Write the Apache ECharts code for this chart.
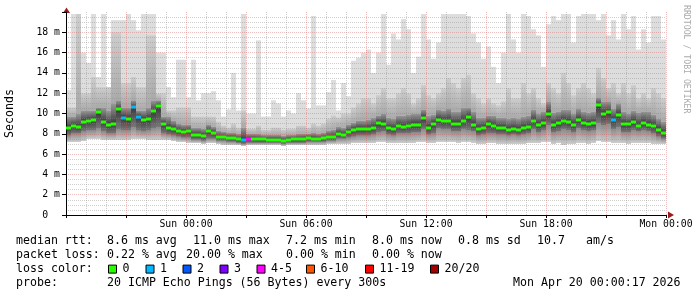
<!DOCTYPE html>
<html><head><meta charset="utf-8">
<script src="https://cdn.jsdelivr.net/npm/echarts@6/dist/echarts.min.js"></script>
<style>html,body{margin:0;padding:0;background:#fff}#c{width:697px;height:297px}</style>
</head><body><div id="c"></div>
<script>
// ---- data (hours since Sat 18:00, one column every 15 min) ----
const STEP_HOURS = 0.25;
const xTickHours  = [6, 12, 18, 24, 30];
const xTickLabels = ['Sun 00:00', 'Sun 06:00', 'Sun 12:00', 'Sun 18:00', 'Mon 00:00'];
const yTickValues = [0, 2, 4, 6, 8, 10, 12, 14, 16, 18];
const yTickLabels = ['0  ', '2 m', '4 m', '6 m', '8 m', '10 m', '12 m', '14 m', '16 m', '18 m'];

const medianMs = [8.6,8.8,8.7,9.2,9.3,9.4,10.1,9.2,8.9,9.0,
 10.4,9.6,9.5,10.6,9.7,9.4,9.5,10.2,10.7,9.0,
 8.6,8.5,8.3,8.2,8.3,7.9,7.9,7.8,8.3,8.1,
 7.7,7.7,7.6,7.6,7.45,7.4,7.5,7.5,7.45,7.45,
 7.4,7.4,7.4,7.3,7.4,7.45,7.45,7.5,7.6,7.5,
 7.5,7.55,7.7,7.7,8.0,7.9,8.2,8.4,8.5,8.45,
 8.5,8.6,9.1,9.0,8.55,8.5,8.8,8.7,8.8,8.9,
 8.9,9.6,8.6,9.0,9.4,9.3,9.3,9.0,9.0,9.3,
 9.7,8.9,8.5,8.6,9.0,8.8,8.6,8.6,8.4,8.5,
 8.4,8.6,8.7,9.3,8.9,9.1,10.0,8.9,9.1,9.3,
 9.2,8.9,9.35,9.1,9.0,9.05,10.8,10.0,10.1,9.4,
 9.9,8.95,8.95,9.2,8.8,9.1,8.9,8.8,8.4,8.1];
const lossCount = [0,0,0,0,0,0,0,0,0,0, 0,1,0,1,1,0,0,0,0,0,
 0,0,0,0,0,0,0,0,0,0, 0,0,0,0,0,1,4,0,0,0,
 0,0,0,0,0,0,0,0,0,0, 0,0,0,0,0,0,0,0,0,0,
 0,0,0,0,0,0,0,0,0,0, 0,0,0,0,0,0,0,0,0,0,
 0,0,0,0,0,0,0,0,0,0, 0,0,0,0,0,0,0,0,0,0,
 0,0,0,0,0,0,0,0,0,1, 0,0,0,0,0,0,0,0,0,0];
const pingMax = [12.3,19.8,19.8,16.0,15.0,19.8,13.6,19.8,12.6,19.2,
 19.2,19.2,19.8,19.2,18.2,19.8,19.8,19.8,16.0,16.0,
 12.6,11.6,15.3,15.3,11.6,15.3,11.3,12.0,12.0,12.2,
 11.3,9.7,10.4,14.0,10.3,19.8,10.0,10.0,17.2,9.7,
 9.7,11.3,11.0,9.7,10.3,10.0,12.0,11.3,10.5,19.6,
 10.8,10.8,12.1,13.3,10.3,13.0,11.7,15.2,15.5,16.0,
 16.3,14.0,16.0,19.8,14.8,17.9,17.3,19.3,18.3,14.0,
 15.6,19.8,17.3,15.4,17.0,19.8,19.8,19.8,19.8,19.8,
 19.6,17.9,17.0,15.4,16.6,14.6,13.0,16.0,19.8,17.3,
 16.0,19.8,19.6,18.3,17.7,14.6,18.8,19.6,19.2,19.8,
 19.8,17.0,19.6,19.8,19.8,19.8,19.2,19.8,17.7,19.2,
 17.3,19.8,18.3,19.6,16.3,18.3,17.0,19.6,19.6,17.3];
const pingUp = [10.6,10.6,19.8,12.0,12.0,13.6,12.6,12.6,12.6,18.0,
 18.0,13.0,13.0,13.6,12.6,12.6,17.7,17.7,12.0,12.0,
 10.3,10.3,10.6,10.6,10.6,9.7,9.7,9.7,9.7,9.7,
 9.2,8.8,8.6,9.0,8.6,10.3,8.5,8.5,8.8,8.4,
 8.4,8.6,8.6,8.4,8.5,8.5,8.8,8.8,8.6,9.0,
 8.8,9.0,9.5,9.8,9.6,10.0,10.0,10.6,11.0,11.5,
 11.5,11.0,11.8,12.5,11.5,11.5,12.0,12.5,12.0,11.0,
 11.5,12.8,11.8,11.5,12.0,12.5,13.5,13.0,12.5,13.5,
 13.8,12.0,11.5,11.0,11.5,11.0,10.8,11.2,12.5,11.5,
 11.5,13.0,12.0,12.5,11.5,11.0,13.0,12.5,12.0,14.0,
 13.0,11.8,12.5,13.0,12.5,12.0,14.5,13.5,12.5,13.0,
 12.0,13.0,12.0,12.8,11.5,12.0,11.5,12.5,12.0,11.5];
const pingMid = [9.7,9.7,10.0,10.3,10.3,10.3,10.6,10.6,10.3,11.0,
 11.3,10.6,10.6,11.3,10.3,10.3,10.6,11.3,11.3,9.7,
 9.7,9.3,9.0,8.9,8.9,8.6,8.6,8.5,8.9,8.7,
 8.3,8.2,8.1,8.1,8.0,8.6,8.0,8.0,8.0,7.9,
 7.9,7.9,7.9,7.8,7.9,7.9,8.0,8.0,8.0,8.1,
 8.0,8.1,8.3,8.4,8.7,8.6,8.9,9.1,9.3,9.3,
 9.4,9.6,9.8,10.0,9.6,9.5,9.8,9.8,9.9,10.0,
 10.0,10.4,9.8,9.9,10.4,10.3,10.5,10.2,10.2,10.6,
 10.6,10.2,9.6,9.6,9.8,9.8,9.6,9.6,9.5,9.6,
 9.5,9.7,9.8,10.4,10.0,10.2,11.2,10.1,10.2,10.4,
 10.4,10.0,10.5,10.2,10.1,10.2,11.6,11.2,11.2,10.5,
 11.0,10.2,10.0,10.3,10.1,10.2,10.2,9.9,9.5,9.2];
const pingLow = [7.8,8.0,8.0,8.2,8.3,8.3,8.5,8.2,8.0,8.0,
 8.4,8.3,8.3,8.6,8.3,8.2,8.3,8.5,8.6,8.0,
 7.9,7.8,7.7,7.6,7.6,7.4,7.4,7.3,7.5,7.5,
 7.3,7.3,7.2,7.2,7.1,7.0,7.1,7.1,7.1,7.1,
 7.1,7.1,7.1,7.0,7.1,7.1,7.1,7.1,7.2,7.2,
 7.2,7.2,7.3,7.3,7.5,7.5,7.6,7.7,7.8,7.8,
 7.8,7.9,8.1,8.2,7.9,7.8,8.0,8.0,8.0,8.1,
 8.1,8.4,7.9,8.0,8.5,8.4,8.4,8.2,8.2,8.4,
 8.3,8.2,7.8,7.9,8.0,8.0,7.9,7.9,7.8,7.9,
 7.8,7.9,8.0,8.4,8.1,8.3,8.8,8.1,8.2,8.4,
 8.3,8.1,8.5,8.3,8.2,8.3,9.0,8.8,8.9,8.4,
 8.6,8.1,8.1,8.3,8.2,8.3,8.2,8.0,7.7,7.5];
const pingMin = [7.2,7.2,7.2,7.3,7.5,7.5,7.5,7.4,7.4,7.4,
 7.4,7.4,7.4,7.5,7.5,7.5,7.4,7.4,7.4,7.4,
 7.4,7.3,7.2,7.2,7.1,7.1,7.1,7.0,7.1,7.1,
 7.0,6.9,6.9,6.9,6.9,6.8,6.9,6.9,6.9,6.9,
 6.9,6.9,6.9,6.8,6.9,6.9,6.9,6.9,6.9,6.9,
 6.9,6.9,7.0,7.0,7.0,7.0,7.0,7.1,7.1,7.1,
 7.1,7.1,7.2,7.2,7.1,7.1,7.1,7.1,7.1,7.1,
 7.2,7.2,7.1,7.1,7.2,7.2,7.2,7.2,7.1,7.2,
 7.2,7.1,7.0,7.0,7.1,7.1,7.0,7.0,7.0,7.0,
 7.0,7.0,7.1,7.1,7.1,7.2,7.2,7.0,7.1,6.9,
 7.0,7.0,7.1,7.1,7.0,7.1,7.3,7.2,7.2,7.1,
 7.1,7.1,7.0,7.1,7.1,7.1,7.1,7.0,7.0,7.0];

const lossLegendLabels = ['0', '1', '2', '3', '4-5', '6-10', '11-19', '20/20'];
const lossLegendColors = ['#26ff00', '#00b8ff', '#0059ff', '#7e00ff', '#ff00ff', '#ff5500', '#ff0000', '#a10000'];
const lossLegendUpper  = [0, 1, 2, 3, 5, 10, 19, 20];

const rttLine  = ['median rtt:', '8.6 ms avg', '11.0 ms max', '7.2 ms min', '8.0 ms now', '0.8 ms sd', '10.7', 'am/s'];
const lossLine = ['packet loss:', '0.22 % avg', '20.00 % max', '0.00 % min', '0.00 % now'];
const probeLine = ['probe:', '20 ICMP Echo Pings (56 Bytes) every 300s', 'Mon Apr 20 00:00:17 2026'];
const lossColorLabel = 'loss color:';
const yAxisTitle = 'Seconds';
const watermark = 'RRDTOOL / TOBI OETIKER';

// ---- layout ----
const MONO = 'DejaVu Sans Mono';
const rttX = [16, 107, 193, 286, 372, 458, 537, 586];
const lossX = [16, 107, 186, 286, 372];
const probeX = [16, 107, 513];
const swatchX = [108, 145.5, 182.5, 219.5, 256.5, 306, 365, 430];
const lineY = [241.3, 255.2, 269.1, 283];

function lossColor(n) {
  for (let k = 0; k < lossLegendUpper.length; k++) if (n <= lossLegendUpper[k]) return lossLegendColors[k];
  return lossLegendColors[lossLegendColors.length - 1];
}

const smokeData = medianMs.map((m, i) => [i * STEP_HOURS, (i + 1) * STEP_HOURS,
  pingMin[i], pingLow[i], m, pingMid[i], pingUp[i], pingMax[i]]);
const medData = medianMs.map((m, i) => [i * STEP_HOURS, (i + 1) * STEP_HOURS, m, lossCount[i]]);

function colX(api) {
  const x0 = Math.round(api.coord([api.value(0), 0])[0]);
  const x1 = Math.round(api.coord([api.value(1), 0])[0]);
  return [x0, x1 - x0];
}

function smokeItem(params, api) {
  const [x0, w] = colX(api);
  const Y = v => api.coord([api.value(0), v])[1];
  const yMin = Y(api.value(2)), yLow = Y(api.value(3)), yMed = Y(api.value(4));
  const yMid = Y(api.value(5)), yUp = Y(api.value(6)), yMax = Y(api.value(7));
  const rect = (ya, yb, fill) => ({ type: 'rect', shape: { x: x0, y: ya, width: w, height: yb - ya }, style: { fill } });
  const s = Math.min(0.95, Math.max(0.05, (yMed - yMid) / (yLow - yMid)));
  return { type: 'group', children: [
    rect(yMax, yMin, '#dddddd'),
    rect(yUp, yMid, new echarts.graphic.LinearGradient(0, 0, 0, 1, [
      { offset: 0, color: '#cdcdcd' }, { offset: 1, color: '#a9a9a9' }])),
    rect(yLow, yMin, new echarts.graphic.LinearGradient(0, 0, 0, 1, [
      { offset: 0, color: '#8e8e8e' }, { offset: 1, color: '#cccccc' }])),
    rect(yMid, yLow, new echarts.graphic.LinearGradient(0, 0, 0, 1, [
      { offset: 0, color: '#9a9a9a' }, { offset: s, color: '#3a3a3a' }, { offset: 1, color: '#7a7a7a' }]))
  ]};
}

function medItem(params, api) {
  const [x0, w] = colX(api);
  const y = api.coord([api.value(0), api.value(2)])[1];
  return { type: 'rect', shape: { x: x0, y: Math.round(y) - 1.5, width: w, height: 3 },
    style: { fill: lossColor(api.value(3)) } };
}

const graphics = [];
const txt = (text, x, y, size, fill) => ({ type: 'text', x, y, silent: true,
  style: { text, fill: fill || '#000', fontFamily: MONO, fontSize: size || 11.6, align: 'left', verticalAlign: 'middle' } });
rttLine.forEach((t, k) => graphics.push(txt(t, rttX[k], lineY[0])));
lossLine.forEach((t, k) => graphics.push(txt(t, lossX[k], lineY[1])));
graphics.push(txt(lossColorLabel, 16, lineY[2]));
lossLegendLabels.forEach((t, k) => {
  graphics.push({ type: 'rect', silent: true, shape: { x: swatchX[k] + 0.5, y: lineY[2] - 4, width: 8, height: 8 },
    style: { fill: lossLegendColors[k], stroke: '#000', lineWidth: 1 } });
  graphics.push(txt(t, swatchX[k] + 14.5, lineY[2]));
});
probeLine.forEach((t, k) => graphics.push(txt(t, probeX[k], lineY[3])));
graphics.push({ type: 'text', x: 686, y: 5, rotation: -Math.PI / 2, silent: true,
  style: { text: watermark, fill: '#aaaaaa', fontFamily: MONO, fontSize: 8.2, align: 'left', verticalAlign: 'middle' } });
graphics.push({ type: 'polygon', silent: true, shape: { points: [[63, 13], [70, 13], [66.5, 7.5]] }, style: { fill: '#9a1c1c' } });
graphics.push({ type: 'polygon', silent: true, shape: { points: [[668, 211.5], [668, 218.5], [674, 215]] }, style: { fill: '#9a1c1c' } });

const MAJOR = 'rgba(215,90,90,0.38)';
const MINOR = 'rgba(140,140,140,0.42)';

const chart = echarts.init(document.getElementById('c'), null, { renderer: 'canvas' });
chart.setOption({
  animation: false,
  backgroundColor: '#ffffff',
  grid: { left: 66, top: 12, width: 600, height: 203, containLabel: false, outerBoundsMode: 'none' },
  xAxis: {
    type: 'value', min: 0, max: 30, interval: 3, z: 3,
    axisLine: { show: true, lineStyle: { color: '#000', width: 1 } },
    axisTick: { show: true, length: 3, lineStyle: { color: '#000' } },
    minorTick: { show: false, splitNumber: 3 },
    splitLine: { show: true, showMinLine: false, showMaxLine: true, lineStyle: { color: MAJOR, width: 1, type: [1, 1] } },
    minorSplitLine: { show: true, lineStyle: { color: MINOR, width: 1, type: [1, 1] } },
    axisLabel: {
      margin: 4, fontFamily: MONO, fontSize: 9.8, color: '#000', hideOverlap: false,
      formatter: v => { const k = xTickHours.indexOf(v); return k >= 0 ? xTickLabels[k] : ''; }
    }
  },
  yAxis: {
    type: 'value', min: 0, max: 20, interval: 2, z: 3,
    name: yAxisTitle, nameLocation: 'middle', nameGap: 50,
    nameTextStyle: { fontFamily: MONO, fontSize: 11.6, color: '#000' },
    axisLine: { show: true, lineStyle: { color: '#000', width: 1 } },
    axisTick: { show: true, length: 4, lineStyle: { color: '#000' } },
    minorTick: { show: false, splitNumber: 4 },
    splitLine: { show: true, showMinLine: false, showMaxLine: false, lineStyle: { color: MAJOR, width: 1, type: [1, 1] } },
    minorSplitLine: { show: true, lineStyle: { color: MINOR, width: 1, type: [1, 1] } },
    axisLabel: {
      margin: 6, fontFamily: MONO, fontSize: 9.8, color: '#000',
      formatter: v => { const k = yTickValues.indexOf(v); return k >= 0 ? yTickLabels[k] : ''; }
    }
  },
  series: [
    { type: 'custom', z: 1, renderItem: smokeItem, data: smokeData, clip: true,
      encode: { x: [0, 1], y: [2, 3, 4, 5, 6, 7] } },
    { type: 'custom', z: 5, renderItem: medItem, data: medData, clip: true,
      encode: { x: [0, 1], y: [2] } }
  ],
  graphic: graphics
});
</script></body></html>
